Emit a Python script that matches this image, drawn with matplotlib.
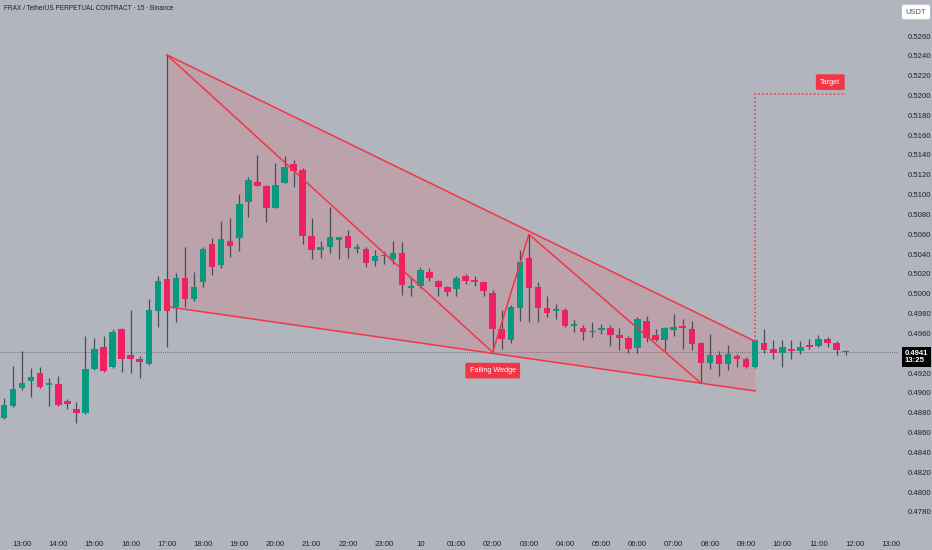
import numpy as np
import matplotlib
matplotlib.use("Agg")
import matplotlib.pyplot as plt
import matplotlib.transforms as mtransforms

# FRAX/USDT perp, 15m candles starting 12:30
opens = [
    0.4875, 0.4887, 0.4905, 0.4912, 0.4920, 0.4908, 0.4909, 0.4892, 0.4884, 0.4880,
    0.4924, 0.4946, 0.4926, 0.4964, 0.4938, 0.4934, 0.4929, 0.4983, 0.5015, 0.4987,
    0.5016, 0.4995, 0.5012, 0.5050, 0.5029, 0.5053, 0.5056, 0.5093, 0.5113, 0.5109,
    0.5087, 0.5112, 0.5131, 0.5125, 0.5058, 0.5044, 0.5047, 0.5054, 0.5058, 0.5045,
    0.5045, 0.5033, 0.5038, 0.5035, 0.5041, 0.5006, 0.5008, 0.5022, 0.5013, 0.5007,
    0.5005, 0.5018, 0.5013, 0.5012, 0.5001, 0.4964, 0.4953, 0.4986, 0.5036, 0.5007,
    0.4986, 0.4983, 0.4984, 0.4968, 0.4966, 0.4961, 0.4963, 0.4966, 0.4958, 0.4955,
    0.4945, 0.4973, 0.4958, 0.4953, 0.4963, 0.4967, 0.4964, 0.4950, 0.4930, 0.4938,
    0.4929, 0.4937, 0.4934, 0.4926, 0.4950, 0.4944, 0.4940, 0.4944, 0.4942, 0.4948,
    0.4947, 0.4954, 0.4950, 0.4942]
closes = [
    0.4888, 0.4904, 0.4910, 0.4916, 0.4906, 0.4910, 0.4888, 0.4889, 0.4880, 0.4924,
    0.4944, 0.4922, 0.4961, 0.4934, 0.4934, 0.4931, 0.4984, 0.5013, 0.4983, 0.5016,
    0.4995, 0.5007, 0.5045, 0.5027, 0.5055, 0.5048, 0.5091, 0.5115, 0.5109, 0.5087,
    0.5110, 0.5128, 0.5124, 0.5058, 0.5044, 0.5047, 0.5057, 0.5057, 0.5046, 0.5047,
    0.5031, 0.5038, 0.5039, 0.5041, 0.5009, 0.5008, 0.5024, 0.5016, 0.5007, 0.5002,
    0.5016, 0.5013, 0.5012, 0.5003, 0.4964, 0.4954, 0.4987, 0.5032, 0.5006, 0.4986,
    0.4981, 0.4984, 0.4968, 0.4970, 0.4961, 0.4962, 0.4966, 0.4958, 0.4955, 0.4944,
    0.4975, 0.4955, 0.4953, 0.4966, 0.4967, 0.4966, 0.4949, 0.4930, 0.4938, 0.4929,
    0.4939, 0.4934, 0.4926, 0.4953, 0.4943, 0.4940, 0.4946, 0.4942, 0.4946, 0.4946,
    0.4954, 0.4950, 0.4943, 0.4941]
highs = [
    0.4895, 0.4927, 0.4942, 0.4925, 0.4926, 0.4915, 0.4917, 0.4894, 0.4891, 0.4957,
    0.4955, 0.4957, 0.4964, 0.4966, 0.4984, 0.4937, 0.4995, 0.5018, 0.5241, 0.5021,
    0.5047, 0.5022, 0.5047, 0.5056, 0.5073, 0.5076, 0.5101, 0.5118, 0.5140, 0.5110,
    0.5132, 0.5139, 0.5135, 0.5127, 0.5076, 0.5053, 0.5088, 0.5057, 0.5064, 0.5050,
    0.5047, 0.5044, 0.5043, 0.5053, 0.5052, 0.5016, 0.5027, 0.5026, 0.5014, 0.5008,
    0.5018, 0.5020, 0.5018, 0.5013, 0.5004, 0.4984, 0.4989, 0.5044, 0.5060, 0.5012,
    0.4998, 0.4990, 0.4986, 0.4974, 0.4969, 0.4972, 0.4970, 0.4969, 0.4965, 0.4957,
    0.4977, 0.4978, 0.4964, 0.4967, 0.4980, 0.4975, 0.4973, 0.4951, 0.4959, 0.4942,
    0.4948, 0.4939, 0.4936, 0.4954, 0.4964, 0.4953, 0.4953, 0.4953, 0.4952, 0.4954,
    0.4958, 0.4956, 0.4952, 0.4943]
lows = [
    0.4874, 0.4886, 0.4903, 0.4896, 0.4905, 0.4887, 0.4887, 0.4884, 0.4870, 0.4879,
    0.4923, 0.4921, 0.4925, 0.4921, 0.4920, 0.4915, 0.4928, 0.4967, 0.4946, 0.4972,
    0.4987, 0.4993, 0.5007, 0.5019, 0.5026, 0.5037, 0.5043, 0.5077, 0.5109, 0.5072,
    0.5087, 0.5112, 0.5108, 0.5050, 0.5035, 0.5036, 0.5041, 0.5035, 0.5036, 0.5041,
    0.5027, 0.5028, 0.5030, 0.5030, 0.4999, 0.4998, 0.5006, 0.5013, 0.4998, 0.4998,
    0.4998, 0.5010, 0.5008, 0.4998, 0.4941, 0.4944, 0.4950, 0.4973, 0.4972, 0.4972,
    0.4977, 0.4975, 0.4967, 0.4961, 0.4953, 0.4956, 0.4959, 0.4947, 0.4943, 0.4940,
    0.4940, 0.4951, 0.4952, 0.4942, 0.4957, 0.4944, 0.4943, 0.4910, 0.4924, 0.4917,
    0.4923, 0.4926, 0.4925, 0.4925, 0.4940, 0.4934, 0.4926, 0.4934, 0.4939, 0.4944,
    0.4946, 0.4946, 0.4938, 0.4938]

# time axis: one label per hour (candle index of each hour)
hour_idx = [2 + 4 * k for k in range(25)]
hour_labels = ["13:00", "14:00", "15:00", "16:00", "17:00", "18:00", "19:00", "20:00",
               "21:00", "22:00", "23:00", "10", "01:00", "02:00", "03:00", "04:00",
               "05:00", "06:00", "07:00", "08:00", "09:00", "10:00", "11:00", "12:00", "13:00"]
price_ticks = [0.4780, 0.4800, 0.4820, 0.4840, 0.4860, 0.4880, 0.4900, 0.4920,
               0.4960, 0.4980, 0.5000, 0.5020, 0.5040, 0.5060, 0.5080, 0.5100,
               0.5120, 0.5140, 0.5160, 0.5180, 0.5200, 0.5220, 0.5240, 0.5260]
last_price = 0.4941

# falling wedge drawing (candle index, price)
wedge_x = [18, 83]
wedge_upper = [0.5241, 0.4952]
wedge_lower = [0.4987, 0.4902]
zigzag_x = [18, 54, 58, 77]
zigzag_y = [0.5241, 0.4941, 0.5060, 0.4910]
target_x = [83, 83, 93]
target_y = [0.4952, 0.5202, 0.5202]

bg = "#B2B5BE"
up_col = "#089981"
dn_col = "#EE2260"
line_red = "#F23645"
txt = "#1E222D"

plt.rcParams["font.family"] = ["Liberation Sans Narrow", "Liberation Sans", "DejaVu Sans"]

fig = plt.figure(figsize=(9.32, 5.5), dpi=100, facecolor=bg)
ax = fig.add_axes([0, 0.04, 898 / 932, 0.96])
ax.set_facecolor(bg)

o = np.array(opens)
c = np.array(closes)
h = np.array(highs)
l = np.array(lows)
x = np.arange(len(o))
cols = np.where(c >= o, up_col, dn_col)

# wedge fill + lines
ax.fill_between(wedge_x, wedge_lower, wedge_upper, color=line_red, alpha=0.15, lw=0, zorder=1)
ax.vlines(wedge_x[1], wedge_lower[1], wedge_upper[1], color="#C9A5AE", lw=0.6, zorder=1)

# candles
ax.vlines(x, l, h, color="#4A4D57", lw=0.9, zorder=2)
body_h = np.maximum(np.abs(c - o), 0.00015)
ax.bar(x, body_h, bottom=np.minimum(o, c), width=0.72, color=cols, lw=0, zorder=3)

ax.plot(wedge_x, wedge_upper, color=line_red, lw=1.1, zorder=4)
ax.plot(wedge_x, wedge_lower, color=line_red, lw=1.1, zorder=4)
ax.plot(zigzag_x, zigzag_y, color=line_red, lw=1.1, zorder=4)
ax.plot(target_x, target_y, color=line_red, lw=1.1, ls=(0, (1, 1.6)), zorder=4)

# last price line
ax.axhline(last_price, color="#5D606B", lw=0.6, ls=(0, (1, 1.5)), zorder=1.5)

# labels
ax.text(54, 0.49225, "Falling Wedge", color="white", fontsize=5.2, ha="center", va="center",
        zorder=6, bbox=dict(boxstyle="round,pad=0.6,rounding_size=0.2", fc=line_red, ec="none"))
ax.text(91.3, 0.52135, "Target", color="white", fontsize=5.2, ha="center", va="center",
        zorder=6, bbox=dict(boxstyle="round,pad=0.6,rounding_size=0.2", fc=line_red, ec="none"))

ax.set_xlim(-0.44, (898 - 4) / 9.05)
ax.set_ylim(0.476378, 0.529631)

ax.set_xticks(hour_idx)
ax.set_xticklabels(hour_labels)
ax.yaxis.tick_right()
ax.set_yticks(price_ticks)
ax.set_yticklabels(["%.4f" % p for p in price_ticks])
ax.tick_params(axis="both", length=0, labelsize=5.6, colors=txt)
ax.tick_params(axis="y", pad=7)
ax.tick_params(axis="x", pad=9)
for s in ax.spines.values():
    s.set_visible(False)

# price tag on axis
tr = mtransforms.blended_transform_factory(ax.transAxes, ax.transData)
ax.text(1.0075, last_price - 0.00045, "0.4941\n13:25", transform=tr, color="white",
        fontsize=5.6, fontweight="bold", ha="left", va="center", linespacing=1.05,
        bbox=dict(boxstyle="square,pad=0.35", fc="black", ec="none"), clip_on=False, zorder=7)

fig.text(4 / 932, 1 - 9 / 550, "FRAX / TetherUS PERPETUAL CONTRACT \u00b7 15 \u00b7 Binance",
         fontsize=4.7, color=txt, ha="left", va="center")
fig.text(916 / 932, 1 - 12 / 550, "USDT", fontsize=5.4, color="#50535E", ha="center", va="center",
         bbox=dict(boxstyle="round,pad=0.5,rounding_size=0.3", fc="white", ec="none"))

fig.savefig("out.png", dpi=100, facecolor=bg)
